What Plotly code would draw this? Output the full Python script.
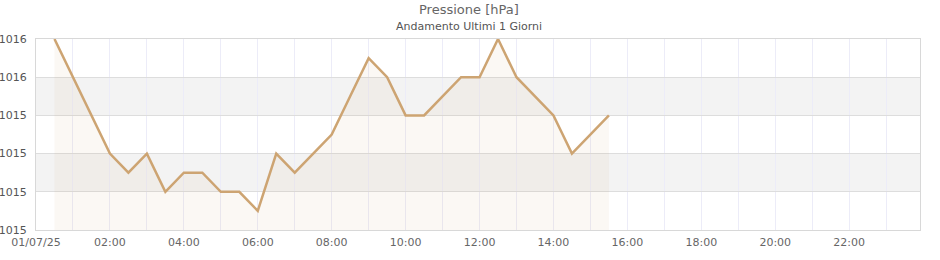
import plotly.graph_objects as go

# Data: time of reading (HH:MM on 01/07/2025) and pressure in hPa
times = ["00:30", "01:00", "01:30", "02:00", "02:30", "03:00", "03:30", "04:00",
         "04:30", "05:00", "05:30", "06:00", "06:30", "07:00", "07:30", "08:00",
         "08:30", "09:00", "09:30", "10:00", "10:30", "11:00", "11:30", "12:00",
         "12:30", "13:00", "13:30", "14:00", "14:30", "15:00", "15:30"]
pressure = [1015.8, 1015.6, 1015.4, 1015.2, 1015.1, 1015.2, 1015.0, 1015.1,
            1015.1, 1015.0, 1015.0, 1014.9, 1015.2, 1015.1, 1015.2, 1015.3,
            1015.5, 1015.7, 1015.6, 1015.4, 1015.4, 1015.5, 1015.6, 1015.6,
            1015.8, 1015.6, 1015.5, 1015.4, 1015.2, 1015.3, 1015.4]
tick_hours = ["00:00", "02:00", "04:00", "06:00", "08:00", "10:00", "12:00",
              "14:00", "16:00", "18:00", "20:00", "22:00"]
tick_labels = ["01/07/25", "02:00", "04:00", "06:00", "08:00", "10:00", "12:00",
               "14:00", "16:00", "18:00", "20:00", "22:00"]
bands = [(1015.0, 1015.2), (1015.4, 1015.6)]

day = "2025-07-01"
xs = [f"{day} {t}" for t in times]
tickvals = [f"{day} {t}" for t in tick_hours]

line_color = "#cda472"

fig = go.Figure()
fig.add_trace(go.Scatter(
    x=xs, y=pressure, mode="lines",
    line=dict(color=line_color, width=2.5),
    fill="tozeroy", fillcolor="rgba(205,164,114,0.08)",
    hoverinfo="x+y", showlegend=False,
))

for lo, hi in bands:
    fig.add_shape(type="rect", xref="paper", x0=0, x1=1, yref="y", y0=lo, y1=hi,
                  fillcolor="#f3f3f3", line=dict(width=0), layer="below")

font_family = "DejaVu Sans"
fig.add_annotation(text="Pressione [hPa]", xref="paper", yref="paper",
                   x=0.49, y=1.152, showarrow=False, yanchor="middle",
                   font=dict(family=font_family, size=13, color="#666666"))
fig.add_annotation(text="Andamento Ultimi 1 Giorni", xref="paper", yref="paper",
                   x=0.49, y=1.063, showarrow=False, yanchor="middle",
                   font=dict(family=font_family, size=11, color="#555555"))

fig.update_layout(
    width=940, height=260,
    margin=dict(l=36, r=20, t=39, b=30),
    paper_bgcolor="white", plot_bgcolor="white",
    font=dict(family=font_family, size=11, color="#666666"),
    xaxis=dict(
        type="date",
        range=[f"{day} 00:00", f"{day} 23:55"],
        tickvals=tickvals, ticktext=tick_labels,
        showgrid=True, gridcolor="#ececf8", gridwidth=1,
        minor=dict(dtick=3600000, showgrid=True, gridcolor="#ececf8", gridwidth=1),
        showline=True, linecolor="#d8d8d8", mirror=True,
        zeroline=False, ticks="", automargin=False,
        ticklabelstandoff=2,
        tickfont=dict(family=font_family, size=11, color="#666666"),
    ),
    yaxis=dict(
        range=[1014.8, 1015.8],
        tick0=1014.8, dtick=0.2, tickformat=".0f",
        showgrid=True, gridcolor="#dddddd", gridwidth=1,
        showline=True, linecolor="#d8d8d8", mirror=True,
        zeroline=False, ticks="", automargin=False,
        ticklabelstandoff=6,
        tickfont=dict(family=font_family, size=11, color="#555555"),
    ),
)

fig.write_html("out.html")
